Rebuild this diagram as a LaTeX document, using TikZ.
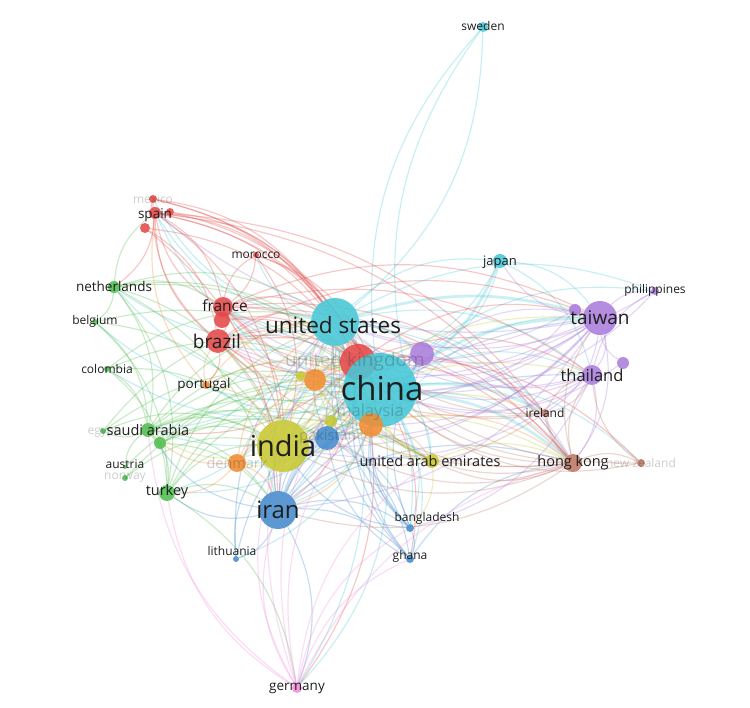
\documentclass[tikz,border=0pt]{standalone}
\usepackage{fontspec}
\setmainfont{Open Sans}
\pgfdeclarelayer{bg}
\pgfsetlayers{bg,main}
\definecolor{cred}{RGB}{228,72,72}
\definecolor{cgreen}{RGB}{80,190,80}
\definecolor{cblue}{RGB}{70,140,205}
\definecolor{cyel}{RGB}{200,200,50}
\definecolor{cpur}{RGB}{170,125,220}
\definecolor{ccyan}{RGB}{70,200,215}
\definecolor{corg}{RGB}{242,140,50}
\definecolor{cbrown}{RGB}{190,120,100}
\definecolor{cpink}{RGB}{245,140,220}
\definecolor{ctext}{RGB}{30,30,30}
\begin{document}
\begin{tikzpicture}[x=1pt,y=-1pt,
  vn/.style={circle,fill=#1,fill opacity=.88,draw=none,inner sep=0pt},
  lab/.style={text=ctext,inner sep=0pt},
  faint/.style={text=ctext,text opacity=.22,inner sep=0pt},
  edge/.style={draw=#1,draw opacity=.3,line width=1.15pt,bend left=24},
  thick edge/.style={draw=#1,draw opacity=.28,line width=2.8pt,bend left=16}]
\begin{pgfonlayer}{bg}
\fill[white] (0,0) rectangle (750,708);
\end{pgfonlayer}
\useasboundingbox (0,0) rectangle (750,708);

% ---------- nodes ----------
\foreach \n/\x/\y/\r/\cc in {
 sweden/483/27/5/ccyan, japan/500/261/7/ccyan,
 philippines/655/291/4/cpur, taiwan/600/318/17/cpur, taiwanb/575/310/6/cpur,
 thailand/592/375/10/cpur, thailandb/623/363/6/cpur, korea/422/354/12/cpur,
 ireland/545/413/4/cbrown, hongkong/573/463/9/cbrown, newzealand/641/463/4/cbrown,
 uae/432/461/7/cyel, bangladesh/410/528/4/cblue, ghana/410/559/4/cblue,
 iran/278/510/19/cblue, lithuania/236/559/3/cblue, germany/297/688/5/cpink,
 turkey/167/493/8/cgreen, norway/125/478/3/cgreen, austria/125/467/2/cgreen,
 saudi/148/430/7/cgreen, greenb/160/443/6/cgreen, egypt/103/431/3/cgreen,
 colombia/107/369/3/cgreen, belgium/95/322/3/cgreen, netherlands/114/287/6/cgreen,
 spain/155/213/6/cred, spainb/145/228/5/cred, spainc/170/212/4/cred,
 mexico/153/199/4/cred, morocco/256/255/3/cred,
 france/223/307/10/cred, franceb/222/320/8/cred, brazil/218/341/12/cred,
 portugal/206/385/4/corg, us/335/322/24/ccyan, uk/358/362/18/cred,
 china/380/390/37/ccyan, chinab/410/392/10/ccyan,
 malaysia/371/425/12/corg, australia/315/380/11/corg,
 ylwa/301/376/5/cyel, ylwb/331/421/6/cyel, pakistan/327/438/12/cblue,
 india/283/446/26/cyel, denmark/237/463/9/corg}
 {\node[vn=\cc,minimum size=\r*2pt] (\n) at (\x,\y) {};}

% ---------- connectors ----------
\begin{pgfonlayer}{bg}
% thick links
\foreach \a/\b in {china/us, china/hongkong, china/taiwan, china/ireland, china/india, us/taiwan, japan/china, us/korea}
  \draw[thick edge=ccyan] (\a) to (\b);
\draw[thick edge=cbrown] (hongkong) to (ireland);
\draw[thick edge=cblue] (iran) to (china);
% cyan
\foreach \a/\b in {china/sweden, sweden/us, us/japan, china/thailand, china/uk, china/iran, china/pakistan,
  china/malaysia, china/australia, china/france, china/brazil, china/spain, china/netherlands, china/saudi,
  china/turkey, china/bangladesh, china/ghana, china/uae, china/germany, china/korea, china/philippines,
  china/newzealand, china/lithuania, china/portugal, china/denmark, china/colombia, china/belgium,
  us/thailand, us/hongkong, us/uk, us/india, us/iran, us/france, us/brazil, us/spain, us/netherlands,
  us/saudi, us/ireland, us/malaysia, us/australia, us/turkey, us/germany, us/mexico, us/morocco,
  us/philippines, us/bangladesh, us/uae, us/pakistan, japan/taiwan, japan/korea, japan/thailand,
  chinab/sweden, japan/uk, chinab/hongkong, chinab/taiwan}
  \draw[edge=ccyan] (\a) to (\b);
% red
\foreach \a/\b in {uk/india, uk/iran, uk/hongkong, uk/taiwan, uk/thailand, uk/ireland, uk/malaysia,
  uk/australia, uk/pakistan, uk/saudi, uk/germany, uk/ghana, uk/newzealand, uk/france, uk/brazil,
  france/brazil, france/spain, france/us, france/china, france/india, france/morocco, france/hongkong,
  france/taiwan, france/thailand, france/ireland, franceb/uk, franceb/china,
  brazil/spain, brazil/us, brazil/india, brazil/portugal, brazil/iran, brazil/hongkong, brazil/taiwan,
  brazil/mexico, brazil/china, brazil/uk,
  spain/us, spain/china, spain/uk, spain/india, spain/france, spain/netherlands, spain/mexico,
  spain/hongkong, spainb/uk, spainc/china, spain/ireland, spainb/brazil, spainc/us, spainb/iran,
  mexico/us, mexico/china, mexico/uk, morocco/france, morocco/china, morocco/uk, morocco/india}
  \draw[edge=cred] (\a) to (\b);
% green
\foreach \a/\b in {netherlands/india, netherlands/china, netherlands/us, netherlands/spain,
  netherlands/belgium, netherlands/iran, netherlands/uk, netherlands/france, netherlands/saudi,
  belgium/india, belgium/china, belgium/saudi, belgium/turkey, colombia/india, colombia/china, colombia/us,
  colombia/saudi, saudi/india, saudi/china, saudi/us, saudi/pakistan, saudi/uae, saudi/iran,
  saudi/malaysia, saudi/uk, saudi/egypt, saudi/turkey, greenb/india, greenb/china, greenb/iran,
  greenb/pakistan, greenb/uae, egypt/india, egypt/china, egypt/us, turkey/india, turkey/china, turkey/iran,
  turkey/us, turkey/uk, turkey/germany, norway/india, norway/china, austria/china, austria/saudi,
  netherlands/turkey, colombia/turkey}
  \draw[edge=cgreen] (\a) to (\b);
% blue
\foreach \a/\b in {iran/us, iran/uk, iran/india, iran/pakistan, iran/bangladesh, iran/ghana,
  iran/lithuania, iran/turkey, iran/saudi, iran/uae, iran/malaysia, iran/australia, iran/hongkong,
  iran/germany, iran/taiwan, pakistan/china, pakistan/india, pakistan/us, pakistan/uk,
  pakistan/bangladesh, pakistan/ghana, pakistan/uae, pakistan/malaysia, lithuania/china,
  lithuania/india, lithuania/us, bangladesh/china, bangladesh/us, bangladesh/india, bangladesh/ghana,
  bangladesh/uk, bangladesh/malaysia, ghana/china, ghana/us, ghana/uk, ghana/pakistan,
  iran/korea, iran/thailand, bangladesh/korea, ghana/hongkong}
  \draw[edge=cblue] (\a) to (\b);
% yellow
\foreach \a/\b in {india/uk, india/uae, india/malaysia, india/australia, india/taiwan, india/thailand,
  india/hongkong, india/saudi, india/korea, india/denmark, india/ylwa, india/ylwb, india/ireland,
  uae/china, uae/us, uae/uk, uae/hongkong, uae/malaysia, uae/australia, ylwa/china, ylwb/china,
  ylwb/us, ylwa/uk, uae/bangladesh}
  \draw[edge=cyel] (\a) to (\b);
% purple
\foreach \a/\b in {taiwan/uk, taiwan/korea, taiwan/thailand, taiwan/philippines, taiwan/hongkong,
  taiwan/japan, taiwan/india, taiwan/ireland, taiwan/malaysia, taiwan/iran, taiwan/brazil,
  taiwan/france, taiwan/australia, taiwanb/china, taiwanb/us, thailand/china, thailand/us,
  thailand/uk, thailand/korea, thailand/hongkong, thailand/philippines, thailand/india,
  thailand/ireland, thailandb/china, thailandb/taiwan, korea/us, korea/uk, korea/india, korea/france,
  korea/brazil, korea/hongkong, korea/taiwan, philippines/china, philippines/us, taiwan/spain,
  taiwan/pakistan, thailand/bangladesh, korea/malaysia}
  \draw[edge=cpur] (\a) to (\b);
% brown
\foreach \a/\b in {hongkong/us, hongkong/uk, hongkong/india, hongkong/newzealand, hongkong/taiwan,
  hongkong/thailand, hongkong/malaysia, hongkong/uae, hongkong/pakistan, hongkong/australia,
  hongkong/iran, ireland/us, ireland/uk, ireland/india, ireland/thailand, newzealand/china,
  newzealand/us, newzealand/thailand, hongkong/brazil, ireland/france}
  \draw[edge=cbrown] (\a) to (\b);
% orange
\foreach \a/\b in {malaysia/china, malaysia/india, malaysia/us, malaysia/uk, malaysia/australia,
  malaysia/uae, malaysia/iran, australia/china, australia/india, australia/us, australia/uk,
  australia/brazil, australia/france, denmark/india, denmark/china, denmark/us, denmark/iran,
  denmark/uk, denmark/turkey, portugal/china, portugal/india, portugal/brazil, portugal/us,
  portugal/spain, denmark/saudi, malaysia/hongkong}
  \draw[edge=corg] (\a) to (\b);
% pink
\foreach \a/\b in {germany/china, germany/us, germany/india, germany/iran, germany/uk,
  germany/bangladesh, germany/ghana, germany/turkey, germany/uae, germany/hongkong, germany/saudi}
  \draw[edge=cpink] (\a) to (\b);
\end{pgfonlayer}

% ---------- labels ----------
\foreach \n/\x/\y/\s/\t in {
 Lsweden/483/26/12/sweden, Ljapan/500/262/13/japan, Lphilippines/655/290/12/philippines,
 Ltaiwan/600/318/19/taiwan, Lthailand/592/375/16.5/thailand, Lireland/545/413/12/ireland,
 Lhongkong/573/463/14.5/hong kong, Luae/430/461/14.5/united arab emirates,
 Lbangladesh/427/518/12/bangladesh, Lghana/410/556/12/ghana, Liran/278/510/24/iran,
 Llithuania/232/551/12/lithuania, Lgermany/297/688/13.5/germany, Lturkey/167/492/14.5/turkey,
 Laustria/125/464/12/austria, Lsaudi/148/430/14.5/saudi arabia, Lcolombia/107/369/12/colombia,
 Lbelgium/95/321/12/belgium, Lnetherlands/114/286/13.5/netherlands, Lspain/155/215/13.5/spain,
 Lmorocco/256/255/12/morocco, Lfrance/225/306/15.5/france, Lbrazil/217/341/19/brazil,
 Lportugal/204/385/13.5/portugal, Lus/333/325/22.5/united states, Lchina/382/388/33/china,
 Lindia/283/446/29/india}
 {\node[lab,font=\fontsize{\s}{\s}\selectfont] (\n) at (\x,\y) {\t};}
\foreach \n/\x/\y/\s/\t in {
 Lnewzealand/641/463/12/new zealand, Lnorway/125/478/12/norway, Legypt/103/432/12/egypt,
 Lmexico/153/199/12/mexico, Luk/355/362/19/united kingdom, Lmalaysia/370/412/16.5/malaysia,
 Lpakistan/328/437/14.5/pakistan, Ldenmark/237/463/14.5/denmark}
 {\node[faint,font=\fontsize{\s}{\s}\selectfont] (\n) at (\x,\y) {\t};}
\end{tikzpicture}
\end{document}
